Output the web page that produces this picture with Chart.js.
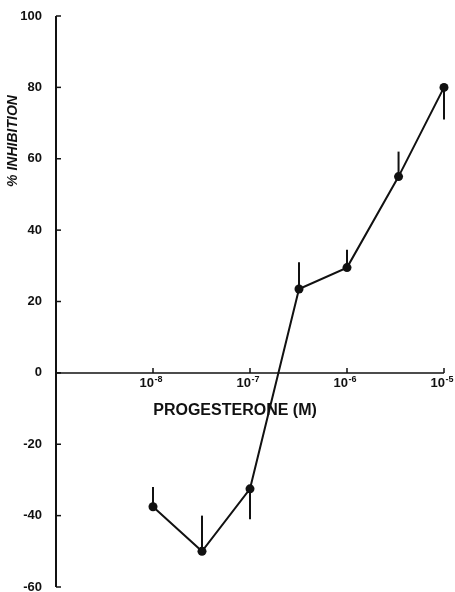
<!DOCTYPE html>
<html><head><meta charset="utf-8">
<script src="https://cdn.jsdelivr.net/npm/chart.js@4"></script>
<style>html,body{margin:0;padding:0;background:#fff}#wrap{width:455px;height:592px}</style>
</head><body><div id="wrap"><canvas id="c" width="455" height="592"></canvas></div>
<script>
const concentrations = [1e-8, 3.2e-8, 1e-7, 3.2e-7, 1e-6, 3.4e-6, 1e-5];
const inhibition = [-37.5, -50, -32.5, 23.5, 29.5, 55, 80];
const errorBarEnds = [-32, -40, -41, 31, 34.5, 62, 71];
const xTickValues = [1e-8, 1e-7, 1e-6, 1e-5];
const xTickBase = '10';
const xTickExponents = ['-8', '-7', '-6', '-5'];
const yTickValues = [-60, -40, -20, 0, 20, 40, 60, 80, 100];
const xTitle = 'PROGESTERONE (M)';
const yTitle = '% INHIBITION';

const INK = '#111';
const FONT = 'Liberation Sans, Arial, Helvetica, sans-serif';

const axesPlugin = {
  id: 'axesPlugin',
  beforeDatasetsDraw(chart) {
    const {ctx, chartArea, scales: {x, y}} = chart;
    ctx.save();
    ctx.strokeStyle = INK;
    ctx.lineCap = 'butt';
    ctx.lineWidth = 2;
    ctx.beginPath();
    ctx.moveTo(chartArea.left, chartArea.top);
    ctx.lineTo(chartArea.left, chartArea.bottom);
    ctx.stroke();
    ctx.lineWidth = 1.5;
    yTickValues.forEach(v => {
      const py = y.getPixelForValue(v);
      ctx.beginPath();
      ctx.moveTo(chartArea.left, py);
      ctx.lineTo(chartArea.left + 5, py);
      ctx.stroke();
    });
    const y0 = y.getPixelForValue(0);
    const xEnd = x.getPixelForValue(xTickValues[xTickValues.length - 1]);
    ctx.lineWidth = 1.5;
    ctx.beginPath();
    ctx.moveTo(chartArea.left, y0);
    ctx.lineTo(xEnd, y0);
    ctx.stroke();
    xTickValues.forEach(v => {
      const px = x.getPixelForValue(v);
      ctx.beginPath();
      ctx.moveTo(px, y0);
      ctx.lineTo(px, y0 - 5);
      ctx.stroke();
    });
    // x tick labels: 10 with superscript exponent
    ctx.fillStyle = INK;
    ctx.textBaseline = 'alphabetic';
    xTickValues.forEach((v, i) => {
      const px = x.getPixelForValue(v);
      ctx.font = 'bold 13px ' + FONT;
      ctx.textAlign = 'right';
      ctx.fillText(xTickBase, px + 1, y0 + 14);
      ctx.font = 'bold 9px ' + FONT;
      ctx.textAlign = 'left';
      ctx.fillText(xTickExponents[i], px + 1.5, y0 + 9);
    });
    ctx.lineWidth = 2;
    concentrations.forEach((c, i) => {
      const px = x.getPixelForValue(c);
      ctx.beginPath();
      ctx.moveTo(px, y.getPixelForValue(inhibition[i]));
      ctx.lineTo(px, y.getPixelForValue(errorBarEnds[i]));
      ctx.stroke();
    });
    ctx.font = 'bold 16px ' + FONT;
    ctx.textAlign = 'center';
    ctx.textBaseline = 'middle';
    ctx.fillText(xTitle, 235, y0 + 38);
    ctx.save();
    ctx.translate(13, 141);
    ctx.rotate(-Math.PI / 2);
    ctx.font = 'italic bold 14px ' + FONT;
    ctx.fillText(yTitle, 0, 0);
    ctx.restore();
    ctx.restore();
  }
};

new Chart(document.getElementById('c'), {
  type: 'line',
  data: {
    datasets: [{
      data: concentrations.map((c, i) => ({x: c, y: inhibition[i]})),
      borderColor: INK,
      borderWidth: 2,
      backgroundColor: INK,
      pointBackgroundColor: INK,
      pointBorderWidth: 0,
      pointRadius: 4.5,
      tension: 0,
      fill: false,
      clip: false
    }]
  },
  options: {
    responsive: false,
    animation: false,
    events: [],
    layout: {padding: {left: 0, right: 11, top: 16, bottom: 5}},
    plugins: {legend: {display: false}, tooltip: {enabled: false}},
    scales: {
      x: {
        type: 'logarithmic',
        min: 1e-9,
        max: 1e-5,
        position: {y: 0},
        afterBuildTicks: s => { s.ticks = xTickValues.map(v => ({value: v, major: true})); },
        afterFit: s => { s.paddingLeft = 0; s.paddingRight = 0; },
        grid: {display: false},
        border: {display: false},
        ticks: {display: false, autoSkip: false}
      },
      y: {
        type: 'linear',
        min: -60,
        max: 100,
        position: 'left',
        afterBuildTicks: s => { s.ticks = yTickValues.map(v => ({value: v})); },
        afterFit: s => { s.width = 56; s.paddingTop = 0; s.paddingBottom = 0; },
        grid: {display: false},
        border: {display: false},
        ticks: {
          padding: 6,
          color: INK,
          font: {family: FONT, size: 13, weight: 'bold'},
          callback: v => String(v)
        }
      }
    }
  },
  plugins: [axesPlugin]
});
</script></body></html>
